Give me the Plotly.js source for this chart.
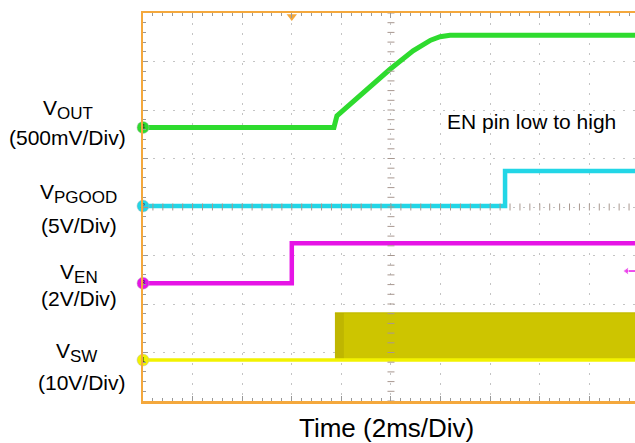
<!DOCTYPE html>
<html>
<head>
<meta charset="utf-8">
<script src="https://cdn.plot.ly/plotly-3.0.1.min.js"></script>
<style>
  html, body { margin: 0; padding: 0; background: #ffffff; overflow: hidden; }
  #chart { width: 635px; height: 443px; }
</style>
</head>
<body>
<div id="chart"></div>
<script>
// ---- Data read from the oscilloscope capture (time in ms, trigger at 0) ----
const timeRange = [-6, 13.84];          // visible time window, ms (2 ms/div)

// VOUT (500 mV/div)
const voutTime = [-6, 1.70, 1.82, 2.75, 3.56, 3.96, 4.89, 5.29, 5.60, 5.98, 6.20, 6.38, 13.84];
const voutVolt = [0, 0, 0.12, 0.33, 0.51, 0.60, 0.79, 0.86, 0.90, 0.935, 0.947, 0.95, 0.95];

// VPGOOD (5 V/div)
const pgoodTime = [-6, 8.60, 8.60, 13.84];
const pgoodVolt = [0, 0, 3.6, 3.6];

// VEN (2 V/div)
const enTime = [-6, 0, 0, 13.84];
const enVolt = [0, 0, 1.65, 1.65];

// VSW (10 V/div): baseline and switching envelope
const swBaseTime = [-6, 13.84];
const swBaseVolt = [0, 0];
const swEnvTime = [1.74, 13.84];
const swEnvLow = [0, 0];
const swEnvHigh = [9.7, 9.7];
const swEdgeTime = [1.74, 2.1];          // darker start of switching burst
const swEdgeHigh = [9.7, 9.7];

// EN trigger level (V) and trigger time (ms)
const enTrigLevel = 0.5;
const trigTime = 0;

// Channel settings: scale (V/div), ground position (div from bottom)
const channels = {
  vout:  {scale: 0.5, pos: 5.64, color: '#2EDB2E', num: '4'},
  pgood: {scale: 5,   pos: 4.02, color: '#22D6E6', num: '2'},
  en:    {scale: 2,   pos: 2.43, color: '#E614E6', num: '3'},
  sw:    {scale: 10,  pos: 0.845, color: '#F2F200', num: '1'}
};

const subStyle = s => 'V<sub><span style="font-size:17px">' + s + '</span></sub>';
const labelNames = [subStyle('OUT'), subStyle('PGOOD'), subStyle('EN'), subStyle('SW')];
const labelScales = ['(500mV/Div)', '(5V/Div)', '(2V/Div)', '(10V/Div)'];

// ---- helpers ----
function toDiv(ch, arr) { return arr.map(v => ch.pos + v / ch.scale); }

const traces = [];

// SW switching band
traces.push({x: swEnvTime, y: toDiv(channels.sw, swEnvLow), mode: 'lines',
  line: {color: 'rgba(0,0,0,0)', width: 0}, hoverinfo: 'skip', showlegend: false});
traces.push({x: swEnvTime, y: toDiv(channels.sw, swEnvHigh), mode: 'lines', fill: 'tonexty',
  fillcolor: '#CDC500', line: {color: '#C4BC00', width: 1.5}, hoverinfo: 'skip', showlegend: false});
traces.push({x: swEdgeTime, y: toDiv(channels.sw, swEnvLow), mode: 'lines',
  line: {color: 'rgba(0,0,0,0)', width: 0}, hoverinfo: 'skip', showlegend: false});
traces.push({x: swEdgeTime, y: toDiv(channels.sw, swEdgeHigh), mode: 'lines', fill: 'tonexty',
  fillcolor: 'rgba(150,140,0,0.25)', line: {color: 'rgba(0,0,0,0)', width: 0}, hoverinfo: 'skip', showlegend: false});
// SW baseline
traces.push({x: swBaseTime, y: toDiv(channels.sw, swBaseVolt), mode: 'lines',
  line: {color: channels.sw.color, width: 3.5}, showlegend: false});
// EN
traces.push({x: enTime, y: toDiv(channels.en, enVolt), mode: 'lines',
  line: {color: channels.en.color, width: 4.5}, showlegend: false});
// PGOOD
traces.push({x: pgoodTime, y: toDiv(channels.pgood, pgoodVolt), mode: 'lines',
  line: {color: channels.pgood.color, width: 4.5}, showlegend: false});
// VOUT
traces.push({x: voutTime, y: toDiv(channels.vout, voutVolt), mode: 'lines',
  line: {color: channels.vout.color, width: 5}, showlegend: false});

// Channel ground markers on the left edge
const chList = [channels.vout, channels.pgood, channels.en, channels.sw];
traces.push({
  x: chList.map(() => timeRange[0]), y: chList.map(c => c.pos),
  mode: 'markers+text', text: chList.map(c => c.num), textposition: 'middle center',
  textfont: {size: 8, color: '#333', family: 'Liberation Sans, Arial'},
  marker: {size: 12, color: chList.map(c => c.color), line: {color: '#bbb', width: 0.5}},
  cliponaxis: false, showlegend: false, hoverinfo: 'skip'
});

// Trigger time marker (top) and EN trigger level arrow (right)
traces.push({x: [trigTime], y: [7.93], mode: 'markers',
  marker: {symbol: 'triangle-down', size: 9, color: '#F4A83C'}, cliponaxis: false, showlegend: false});
const lvl = channels.en.pos + enTrigLevel / channels.en.scale;
traces.push({x: [13.5, 13.84], y: [lvl, lvl], mode: 'lines+markers',
  line: {color: channels.en.color, width: 1.5},
  marker: {symbol: ['triangle-left', 'circle'], size: [7, 0], color: channels.en.color},
  cliponaxis: false, showlegend: false});

// Graticule centre cross tick marks (decoration)
const cx = 4, cy = 4;
const vTickY = [], hTickX = [];
for (let i = 0; i <= 40; i++) vTickY.push(i * 0.2);
for (let t = timeRange[0]; t <= timeRange[1] + 1e-9; t += 0.4) hTickX.push(t);
traces.push({x: vTickY.map(() => cx), y: vTickY, mode: 'markers',
  marker: {symbol: 'line-ew', size: 5, line: {color: '#A89890', width: 1}}, showlegend: false, hoverinfo: 'skip'});
traces.push({x: hTickX, y: hTickX.map(() => cy), mode: 'markers',
  marker: {symbol: 'line-ns', size: 5, line: {color: '#A89890', width: 1}}, showlegend: false, hoverinfo: 'skip'});

const W = 635, H = 443, L = 143, T = 13, B = 42, R = 0;
const pw = W - L - R, ph = H - T - B;
const px = x => (x - L) / pw;
const py = y => (H - B - y) / ph;

const font = 'Liberation Sans, Arial, sans-serif';
const annotations = [];
function addText(text, x, y, size) {
  annotations.push({xref: 'paper', yref: 'paper', x: px(x), y: py(y),
    xanchor: 'center', yanchor: 'middle', align: 'center', showarrow: false, text: text,
    font: {family: font, size: size, color: '#000'}});
}
// VOUT
addText(labelNames[0], 68, 109, 21);
addText(labelScales[0], 67.5, 137, 21);
// VPGOOD
addText(labelNames[1], 78.5, 193, 21);
addText(labelScales[1], 78.5, 225, 21);
// VEN (tight spacing: one block)
addText(labelNames[2] + '<br>' + labelScales[2], 79, 285, 21);
// VSW
addText(labelNames[3], 76, 352, 21);
addText(labelScales[3], 81.5, 382, 21);

addText('EN pin low to high', 531, 121, 21);
addText('Time (2ms/Div)', 386, 428, 26);

const layout = {
  width: W, height: H,
  margin: {l: L, r: R, t: T, b: B, pad: 0},
  paper_bgcolor: '#ffffff', plot_bgcolor: '#ffffff',
  showlegend: false,
  xaxis: {
    range: timeRange, tick0: -6, dtick: 2, showticklabels: false,
    showline: true, linecolor: '#F4A83C', linewidth: 2.5, mirror: 'allticks',
    ticks: 'inside', ticklen: 5, tickcolor: '#999', tickwidth: 1,
    showgrid: true, gridcolor: '#C4C4C4', gridwidth: 1, griddash: '2px,8px',
    zeroline: false, fixedrange: true,
    minor: {dtick: 0.4, ticks: 'inside', ticklen: 3, tickcolor: '#999', showgrid: false}
  },
  yaxis: {
    range: [0, 8], tick0: 0, dtick: 1, showticklabels: false,
    showline: true, linecolor: '#F4A83C', linewidth: 2.5, mirror: false,
    ticks: 'inside', ticklen: 5, tickcolor: '#999', tickwidth: 1,
    showgrid: true, gridcolor: '#C4C4C4', gridwidth: 1, griddash: '2px,8px',
    zeroline: false, fixedrange: true,
    minor: {dtick: 0.2, ticks: 'inside', ticklen: 3, tickcolor: '#999', showgrid: false}
  },
  annotations: annotations
};

Plotly.newPlot('chart', traces, layout, {staticPlot: true, displayModeBar: false});
</script>
</body>
</html>
